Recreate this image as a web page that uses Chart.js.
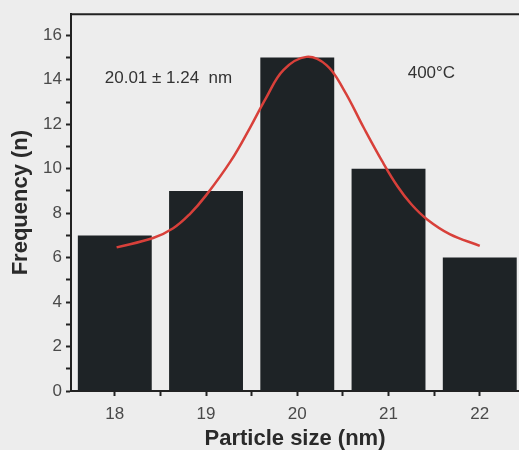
<!DOCTYPE html>
<html>
<head>
<meta charset="utf-8">
<script src="https://cdn.jsdelivr.net/npm/chart.js@4"></script>
<style>
    body { margin: 0; background: #ededed; }
    #wrap { width: 519px; height: 450px; position: relative; }
</style>
</head>
<body>
<div id="wrap"><canvas id="histogram"></canvas></div>
<script>
// Particle size histogram values
const sizes = [18, 19, 20, 21, 22];
const counts = [7, 9, 15, 10, 6];

// Gaussian fit curve
const fitX = [18.02, 18.42, 18.64, 18.82, 19.0, 19.27, 19.48, 19.66, 19.85, 20.1, 20.32, 20.51, 20.73, 20.93, 21.1, 21.25, 21.42, 21.67, 22.0];
const fitY = [6.46, 6.88, 7.32, 7.95, 8.8, 10.34, 11.83, 13.2, 14.45, 15.03, 14.66, 13.55, 11.83, 10.34, 9.2, 8.4, 7.73, 7.06, 6.53];

const meanLabel = '20.01 \u00b1 1.24  nm';
const tempLabel = '400\u00b0C';

const axisColor = '#222';
const font = 'Liberation Sans, Arial, sans-serif';

// Draws the top frame line and the two notes inside the plot
const notesPlugin = {
    id: 'notes',
    afterDraw(chart) {
        const ctx = chart.ctx;
        const area = chart.chartArea;
        const x = chart.scales.x;
        const y = chart.scales.y;
        ctx.save();
        ctx.strokeStyle = axisColor;
        ctx.lineWidth = 2;
        ctx.beginPath();
        ctx.moveTo(area.left - 1, area.top);
        ctx.lineTo(area.right, area.top);
        ctx.stroke();

        ctx.fillStyle = '#333';
        ctx.font = '17px ' + font;
        ctx.textBaseline = 'middle';
        ctx.textAlign = 'left';
        ctx.fillText(meanLabel, x.getPixelForValue(17.89), y.getPixelForValue(14.05));
        ctx.fillText(tempLabel, x.getPixelForValue(21.21), y.getPixelForValue(14.3));
        ctx.restore();
    }
};

new Chart(document.getElementById('histogram').getContext('2d'), {
    type: 'bar',
    data: {
        datasets: [{
            type: 'line',
            data: fitX.map((v, i) => ({ x: v, y: fitY[i] })),
            borderColor: '#d8403a',
            borderWidth: 2.5,
            pointRadius: 0,
            tension: 0.4,
            fill: false,
            order: 0
        }, {
            type: 'bar',
            data: sizes.map((s, i) => ({ x: s, y: counts[i] })),
            backgroundColor: '#1e2326',
            borderWidth: 0,
            // the ruler also counts the half-step ticks, so the width is doubled here
            categoryPercentage: 1,
            barPercentage: 1.62,
            order: 1
        }]
    },
    options: {
        responsive: true,
        maintainAspectRatio: false,
        animation: false,
        layout: { padding: { top: 13, right: 0, left: 0, bottom: 0 } },
        plugins: {
            legend: { display: false },
            tooltip: { enabled: false }
        },
        scales: {
            x: {
                type: 'linear',
                min: 17.52,
                max: 22.43,
                offset: false,
                afterFit(scale) { scale.height = 59; },
                ticks: {
                    stepSize: 0.5,
                    includeBounds: false,
                    padding: 8,
                    color: '#4a4a4a',
                    font: { family: font, size: 17 },
                    callback: v => Number.isInteger(v) ? String(v) : ''
                },
                grid: { offset: false, drawOnChartArea: false, tickLength: 5, color: axisColor, tickWidth: 2 },
                border: { display: true, color: axisColor, width: 2 },
                title: {
                    display: true,
                    text: 'Particle size (nm)',
                    color: '#2a2a2a',
                    font: { family: font, size: 22, weight: 'bold', lineHeight: 1 },
                    padding: { top: 0, bottom: 0 }
                }
            },
            y: {
                min: 0,
                max: 16.95,
                afterFit(scale) { scale.width = 71; },
                ticks: {
                    stepSize: 1,
                    includeBounds: false,
                    padding: 4,
                    color: '#4a4a4a',
                    font: { family: font, size: 17 },
                    callback: v => v % 2 === 0 ? String(v) : ''
                },
                grid: { drawOnChartArea: false, tickLength: 5, color: axisColor, tickWidth: 2 },
                border: { display: true, color: axisColor, width: 2 },
                title: {
                    display: true,
                    text: 'Frequency (n)',
                    color: '#2a2a2a',
                    font: { family: font, size: 22, weight: 'bold', lineHeight: 1 },
                    padding: { top: 10, bottom: 0 }
                }
            }
        }
    },
    plugins: [notesPlugin]
});
</script>
</body>
</html>
